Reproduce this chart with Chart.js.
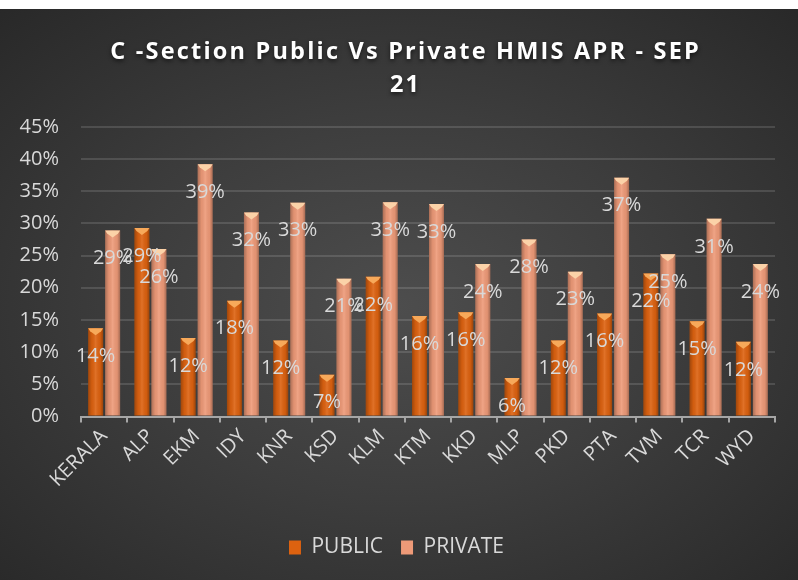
<!DOCTYPE html>
<html>
<head>
<meta charset="utf-8">
<script src="https://cdn.jsdelivr.net/npm/chart.js@4.4.1/dist/chart.umd.min.js"></script>
<style>
    body { margin: 0; background: #ffffff; }
    #wrap {
        position: absolute; left: 0; top: 9px; width: 798px; height: 571px;
        background: radial-gradient(ellipse 75% 75% at 50% 52%, #4d4d4d 0%, #3d3d3d 45%, #272727 100%);
    }
</style>
</head>
<body>
<div id="wrap"><canvas id="hmisChart" width="798" height="571"></canvas></div>
<script>
// districts and C-section rates (%)
const districts = ['KERALA', 'ALP', 'EKM', 'IDY', 'KNR', 'KSD', 'KLM', 'KTM', 'KKD', 'MLP', 'PKD', 'PTA', 'TVM', 'TCR', 'WYD'];
const publicRates = [13.7, 29.3, 12.2, 18.0, 11.8, 6.5, 21.7, 15.6, 16.2, 6.0, 11.8, 16.0, 22.2, 14.8, 11.6];
const privateRates = [28.9, 26.0, 39.2, 31.7, 33.2, 21.4, 33.3, 33.0, 23.7, 27.5, 22.5, 37.1, 25.2, 30.7, 23.7];
const yTicks = [0, 5, 10, 15, 20, 25, 30, 35, 40, 45];
const titleLines = ['C -Section Public Vs Private HMIS APR - SEP', '21'];

const labelColor = '#d9d9d9';
const fontName = "'Open Sans', 'Noto Sans', sans-serif";

// shading + bevelled top so the bars look like the excel 3d ones
const bevelPlugin = {
    id: 'bevel',
    afterDatasetsDraw(chart) {
        const ctx = chart.ctx;
        const tops = ['#f7a95a', '#fbd2a8'];
        chart.data.datasets.forEach((ds, i) => {
            chart.getDatasetMeta(i).data.forEach(bar => {
                const left = bar.x - bar.width / 2;
                const right = bar.x + bar.width / 2;
                const g = ctx.createLinearGradient(left, 0, right, 0);
                g.addColorStop(0, 'rgba(0,0,0,0.28)');
                g.addColorStop(0.25, 'rgba(0,0,0,0.05)');
                g.addColorStop(0.5, 'rgba(255,255,255,0.10)');
                g.addColorStop(0.8, 'rgba(0,0,0,0.05)');
                g.addColorStop(1, 'rgba(0,0,0,0.30)');
                ctx.save();
                ctx.fillStyle = g;
                ctx.fillRect(left, bar.y, bar.width, bar.base - bar.y);
                // top bevel
                ctx.fillStyle = tops[i];
                ctx.beginPath();
                ctx.moveTo(left, bar.y);
                ctx.lineTo(right, bar.y);
                ctx.lineTo(right - 2, bar.y + 3);
                ctx.lineTo(bar.x, bar.y + 7);
                ctx.lineTo(left + 2, bar.y + 3);
                ctx.closePath();
                ctx.fill();
                ctx.restore();
            });
        });
    }
};

// value labels sit a little below the top of each bar
const valueLabels = {
    id: 'valueLabels',
    afterDatasetsDraw(chart) {
        const ctx = chart.ctx;
        ctx.save();
        ctx.font = '20px ' + fontName;
        ctx.fillStyle = labelColor;
        ctx.textAlign = 'center';
        ctx.textBaseline = 'middle';
        chart.data.datasets.forEach((ds, i) => {
            chart.getDatasetMeta(i).data.forEach((bar, j) => {
                ctx.fillText(Math.round(ds.data[j]) + '%', bar.x, bar.y + 28);
            });
        });
        ctx.restore();
    }
};

// the built-in title only reserves the space; this draws it spaced out with a shadow
const spacedTitle = {
    id: 'spacedTitle',
    afterDraw(chart) {
        const block = chart.titleBlock;
        if (!block) return;
        const opts = chart.options.plugins.title;
        const lh = opts.font.size * opts.font.lineHeight;
        const ctx = chart.ctx;
        const spacing = 2.2;
        ctx.save();
        ctx.font = 'bold ' + opts.font.size + 'px ' + fontName;
        ctx.letterSpacing = spacing + 'px';
        ctx.fillStyle = '#ffffff';
        ctx.textAlign = 'center';
        ctx.textBaseline = 'middle';
        ctx.shadowColor = 'rgba(0,0,0,0.6)';
        ctx.shadowBlur = 4;
        ctx.shadowOffsetY = 2;
        const cx = (block.left + block.right) / 2 + spacing / 2 + 8;
        opts.text.forEach((line, i) => {
            ctx.fillText(line, cx, block.top + opts.padding.top + 1 + lh * (i + 0.5));
        });
        ctx.restore();
    }
};

const ctx = document.getElementById('hmisChart').getContext('2d');
const myChart = new Chart(ctx, {
    type: 'bar',
    data: {
        labels: districts,
        datasets: [{
            label: 'PUBLIC',
            data: publicRates,
            backgroundColor: '#dd6210',
            borderWidth: 0,
            barPercentage: 0.88,
            categoryPercentage: 0.735,
        }, {
            label: 'PRIVATE',
            data: privateRates,
            backgroundColor: '#ee9a78',
            borderWidth: 0,
            barPercentage: 0.88,
            categoryPercentage: 0.735,
        }]
    },
    options: {
        responsive: false,
        animation: false,
        layout: {
            padding: {left: 18, right: 23, bottom: 12}
        },
        scales: {
            y: {
                min: 0,
                max: 45,
                afterBuildTicks: axis => axis.ticks = yTicks.map(v => ({value: v})),
                afterFit: axis => { axis.width = 63; },
                border: {display: false},
                grid: {
                    color: 'rgba(255,255,255,0.13)',
                    lineWidth: 2,
                    drawTicks: false,
                },
                ticks: {
                    callback: value => value + '%',
                    color: labelColor,
                    font: {family: fontName, size: 20},
                    padding: 22,
                }
            },
            x: {
                grid: {
                    drawOnChartArea: false,
                    color: '#a6a6a6',
                    lineWidth: 2,
                    tickLength: 6,
                },
                border: {color: '#a6a6a6', width: 2},
                ticks: {
                    color: labelColor,
                    font: {family: fontName, size: 20},
                    maxRotation: 45,
                    minRotation: 45,
                    autoSkip: false,
                    padding: 2,
                },
                afterFit: axis => {
                    axis.height += 25;
                    axis.paddingLeft = 0;
                    axis.paddingRight = 0;
                }
            }
        },
        plugins: {
            title: {
                display: true,
                text: titleLines,
                color: 'rgba(0,0,0,0)',
                font: {family: fontName, size: 23.5, weight: 'bold', lineHeight: 1.4},
                padding: {top: 26, bottom: 26},
            },
            legend: {
                position: 'bottom',
                labels: {
                    color: labelColor,
                    font: {family: fontName, size: 21},
                    boxWidth: 12,
                    boxHeight: 14,
                    padding: 18,
                }
            },
            tooltip: {enabled: false},
        }
    },
    plugins: [bevelPlugin, valueLabels, spacedTitle]
});
</script>
</body>
</html>
